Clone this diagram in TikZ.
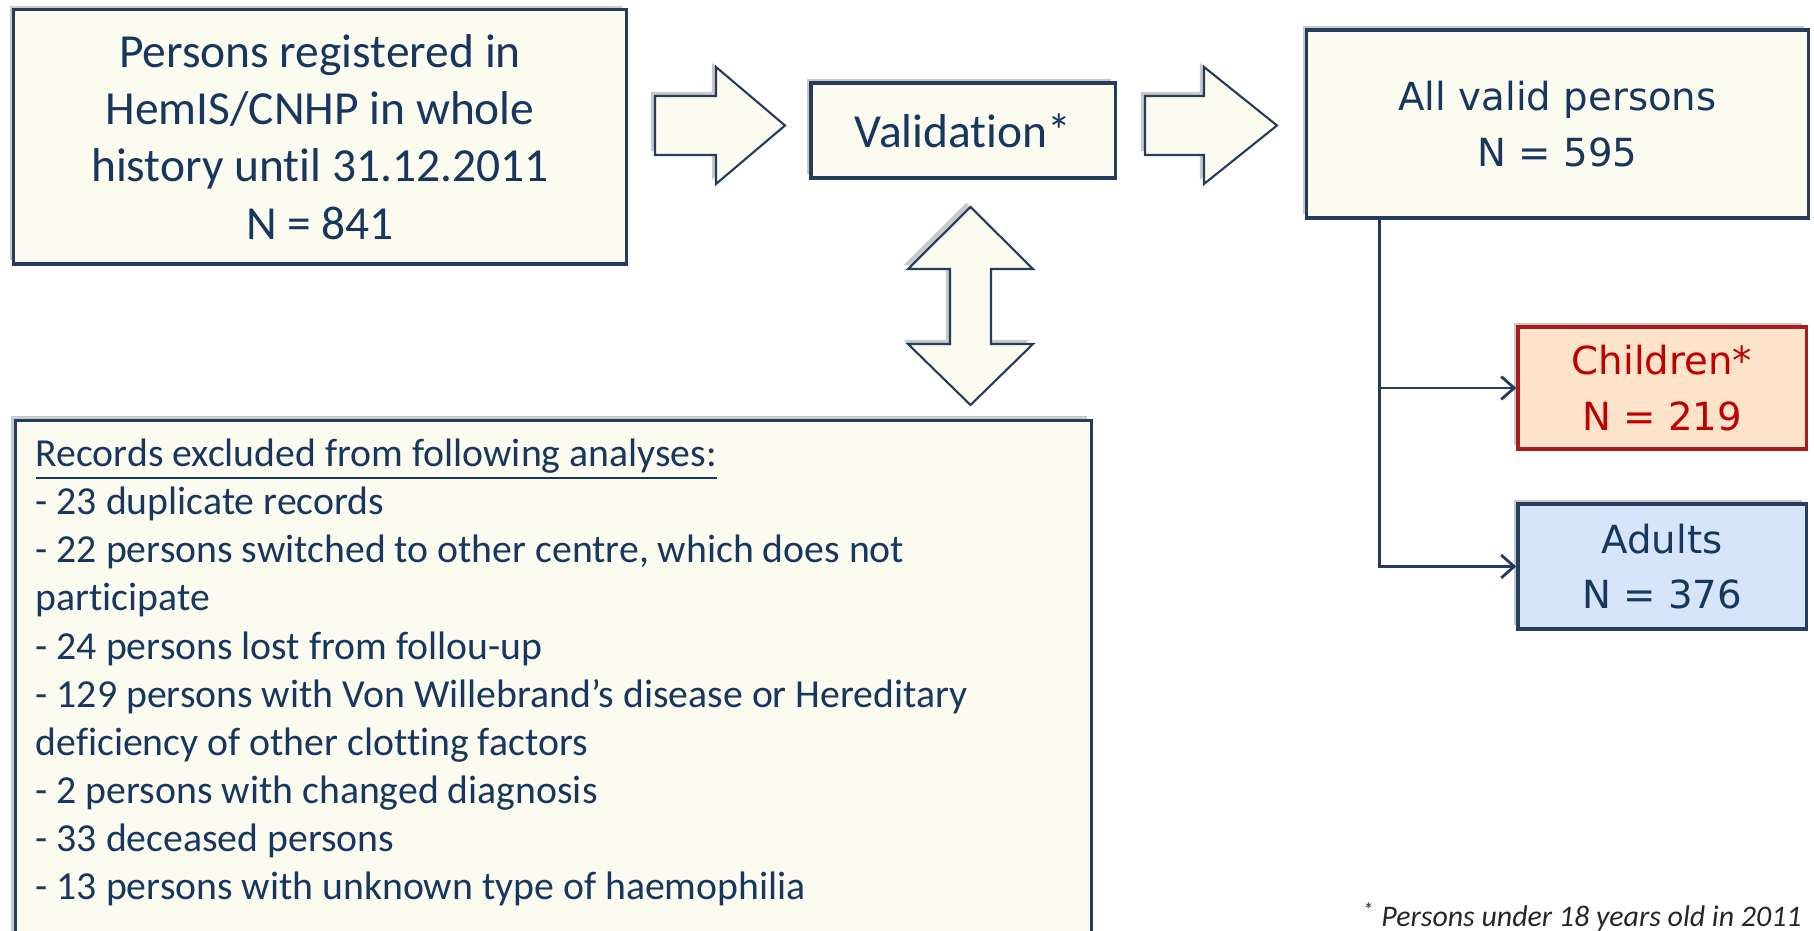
\documentclass[tikz,border=0pt]{standalone}
\usepackage{fontspec}
\setmainfont{Carlito}[Ligatures=NoCommon]
\newfontfamily\widefont{DejaVu Sans}
\usetikzlibrary{arrows.meta,shadows}
\definecolor{TextClr}{RGB}{23,55,94}
\definecolor{LineClr}{RGB}{36,60,94}
\definecolor{BoxClr}{RGB}{252,251,240}
\definecolor{KidFillClr}{RGB}{252,227,202}
\definecolor{KidLineClr}{RGB}{168,28,28}
\definecolor{KidTextClr}{RGB}{192,0,0}
\definecolor{AdultFillClr}{RGB}{214,229,250}

\begin{document}
\begin{tikzpicture}[x=0.01cm,y=-0.01cm,
  boxshadow/.style={drop shadow={shadow xshift=-1.2pt,shadow yshift=1.2pt,opacity=.3,fill=black!70}},
  panel/.style={draw=LineClr,line width=0.9pt,fill=BoxClr,boxshadow,text=TextClr,align=center,inner sep=0pt},
  bigtext/.style={font=\fontsize{13.5}{16.3}\selectfont},
  sidetext/.style={font=\widefont\fontsize{11}{15.8}\selectfont},
  blockarrow/.style={draw=LineClr,line width=0.6pt,fill=BoxClr,boxshadow,line join=miter},
  link/.style={draw=LineClr,line width=0.8pt,-{Straight Barb[length=3.7pt,width=6.5pt]}}]

\clip (0,0) rectangle (1814,931);

\node[panel,bigtext,minimum width=6.12cm,minimum height=2.54cm] (reg) at (320,137) {Persons registered in\\HemIS/CNHP in whole\\history until 31.12.2011\\N = 841};
\node[panel,bigtext,minimum width=3.04cm,minimum height=0.95cm] (valid) at (963,130.5) {Validation*};
\node[panel,sidetext,minimum width=5.01cm,minimum height=1.88cm] (all) at (1557.5,124) {All valid persons\\N = 595};
\node[panel,sidetext,fill=KidFillClr,draw=KidLineClr,text=KidTextClr,minimum width=2.88cm,minimum height=1.22cm] (kids) at (1662,388) {Children*\\N = 219};
\node[panel,sidetext,fill=AdultFillClr,minimum width=2.88cm,minimum height=1.25cm] (adults) at (1662,566.5) {Adults\\N = 376};

\draw[blockarrow] (655,96) -- (716,96) -- (716,67) -- (785,125.5) -- (716,184) -- (716,155) -- (655,155) -- cycle;
\draw[blockarrow] (1145,96) -- (1204,96) -- (1204,67) -- (1277,125.5) -- (1204,184) -- (1204,155) -- (1145,155) -- cycle;
\draw[blockarrow] (970.5,207) -- (1033,269) -- (991,269) -- (991,344) -- (1033,344) -- (970.5,405) -- (908,344) -- (950,344) -- (950,269) -- (908,269) -- cycle;

\node[panel,anchor=north west,minimum width=10.75cm,minimum height=6cm] (excl) at (14,419) {};
\node[anchor=north west,text=TextClr,align=left,inner sep=0pt,font=\fontsize{11.3}{13.7}\selectfont] (excltext) at (35,438) {\underline{Records excluded from following analyses:}\\- 23 duplicate records\\- 22 persons switched to other centre, which does not\\participate\\- 24 persons lost from follou-up\\- 129 persons with Von Willebrand’s disease or Hereditary\\deficiency of other clotting factors\\- 2 persons with changed diagnosis\\- 33 deceased persons\\- 13 persons with unknown type of haemophilia};

\coordinate (trunk) at ([xshift=0.74cm]all.south west);
\draw[link] (trunk) |- (kids);
\draw[link] (trunk) |- (adults);

\node[anchor=base east,text=black!85,font=\fontsize{8.5}{10}\selectfont\itshape] (note) at (1814,927) {\textsuperscript{*} Persons under 18 years old in 2011};

\end{tikzpicture}
\end{document}
